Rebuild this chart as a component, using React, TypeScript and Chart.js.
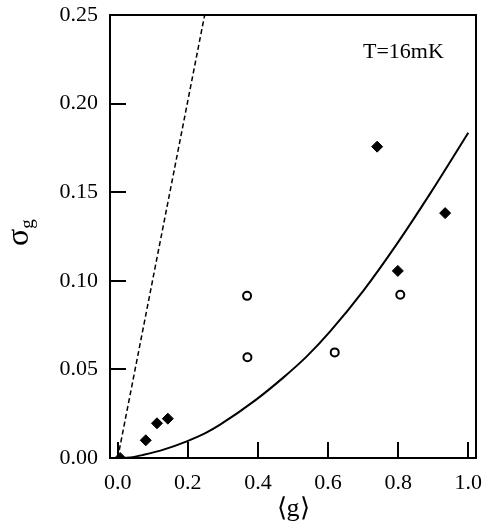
import React, { useEffect, useRef } from "react";
import { Chart, registerables } from "chart.js";

Chart.register(...registerables);

// Filled symbols (solid diamonds)
const filledX = [0.007, 0.080, 0.112, 0.143, 0.740, 0.799, 0.934];
const filledY = [0.000, 0.010, 0.0196, 0.0222, 0.1757, 0.1056, 0.1382];

// Open circles
const openX = [0.369, 0.370, 0.619, 0.806];
const openY = [0.0915, 0.0569, 0.0596, 0.0921];

// Solid theory curve
const curveX = [0.0, 0.036, 0.074, 0.135, 0.197, 0.25, 0.292, 0.392, 0.473, 0.540, 0.606, 0.701, 0.797, 0.892, 1.0];
const curveY = [0.0, 0.0003, 0.0018, 0.0050, 0.0094, 0.0140, 0.0188, 0.0325, 0.0455, 0.0575, 0.0715, 0.0945, 0.121, 0.1495, 0.1836];

// Dashed line
const dashX = [0.0, 0.248];
const dashY = [0.0, 0.25];

// Axes
const xTicks = [0.0, 0.2, 0.4, 0.6, 0.8, 1.0];
const yTicks = [0.0, 0.05, 0.10, 0.15, 0.20, 0.25];
const xMin = -0.022;
const xMax = 1.022;
const yMin = 0;
const yMax = 0.25;

const xTitle = "\u27E8g\u27E9";
const yTitleMain = "\u03C3";
const yTitleSub = "g";
const annotation = "T=16mK";

const SERIF = "'Liberation Serif', 'Times New Roman', serif";

const zip = (xs: number[], ys: number[]) => xs.map((x, i) => ({ x, y: ys[i] }));

const framePlugin = {
  id: "frame",
  beforeDatasetsDraw(chart: any) {
    const { ctx, chartArea } = chart;
    const xs = chart.scales.x;
    const ys = chart.scales.y;
    ctx.save();
    ctx.strokeStyle = "#000";
    ctx.lineWidth = 2;
    ctx.strokeRect(chartArea.left, chartArea.top, chartArea.right - chartArea.left, chartArea.bottom - chartArea.top);
    ctx.beginPath();
    xTicks.forEach((v) => {
      const px = Math.round(xs.getPixelForValue(v));
      ctx.moveTo(px, chartArea.bottom);
      ctx.lineTo(px, chartArea.bottom - 16);
    });
    yTicks.forEach((v) => {
      const py = Math.round(ys.getPixelForValue(v));
      ctx.moveTo(chartArea.left, py);
      ctx.lineTo(chartArea.left + 16, py);
    });
    ctx.stroke();
    ctx.restore();
  },
  afterDraw(chart: any) {
    const { ctx, chartArea } = chart;
    ctx.save();
    ctx.fillStyle = "#000";
    // annotation
    ctx.font = `22px ${SERIF}`;
    ctx.textBaseline = "alphabetic";
    ctx.textAlign = "left";
    ctx.fillText(annotation, 363, 58);
    // y title with subscript
    const cy = (chartArea.top + chartArea.bottom) / 2 - 4;
    ctx.translate(28, cy);
    ctx.rotate(-Math.PI / 2);
    ctx.font = `32px ${SERIF}`;
    const w1 = ctx.measureText(yTitleMain).width;
    ctx.font = `19px ${SERIF}`;
    const w2 = ctx.measureText(yTitleSub).width;
    const start = -(w1 + w2) / 2;
    ctx.font = `32px ${SERIF}`;
    ctx.fillText(yTitleMain, start, 0);
    ctx.font = `19px ${SERIF}`;
    ctx.fillText(yTitleSub, start + w1, 5);
    ctx.restore();
  },
};

export default function App() {
  const ref = useRef<HTMLCanvasElement | null>(null);

  useEffect(() => {
    if (!ref.current) return;
    const chart = new Chart(ref.current, {
      type: "scatter",
      data: {
        datasets: [
          {
            label: "dashed",
            data: zip(dashX, dashY),
            showLine: true,
            borderColor: "#000",
            borderWidth: 1.5,
            borderDash: [5, 3],
            pointRadius: 0,
          },
          {
            label: "theory",
            data: zip(curveX, curveY),
            showLine: true,
            borderColor: "#000",
            borderWidth: 2,
            cubicInterpolationMode: "monotone",
            pointRadius: 0,
          },
          {
            label: "open",
            data: zip(openX, openY),
            pointStyle: "circle",
            pointRadius: 4,
            borderWidth: 2,
            borderColor: "#000",
            backgroundColor: "#fff",
          },
          {
            label: "filled",
            data: zip(filledX, filledY),
            pointStyle: "rectRot",
            pointRadius: 5.5,
            borderWidth: 1,
            borderColor: "#000",
            backgroundColor: "#000",
          },
        ],
      },
      options: {
        animation: false,
        responsive: true,
        maintainAspectRatio: false,
        layout: { padding: { top: 15, right: 8, left: 0, bottom: 0 } },
        plugins: {
          legend: { display: false },
          tooltip: { enabled: false },
        },
        scales: {
          x: {
            type: "linear",
            min: xMin,
            max: xMax,
            grid: { display: false, drawTicks: false },
            border: { display: false },
            afterBuildTicks: (s: any) => {
              s.ticks = xTicks.map((v) => ({ value: v }));
            },
            afterFit: (s: any) => {
              s.height = 67;
              s.paddingLeft = 0;
              s.paddingRight = 0;
            },
            ticks: {
              color: "#000",
              padding: 12,
              maxRotation: 0,
              autoSkip: false,
              font: { family: SERIF, size: 22 },
              callback: (v: any) => Number(v).toFixed(1),
            },
            title: {
              display: true,
              text: xTitle,
              color: "#000",
              font: { family: SERIF, size: 26 },
              padding: { top: 0, bottom: 0 },
            },
          },
          y: {
            type: "linear",
            min: yMin,
            max: yMax,
            grid: { display: false, drawTicks: false },
            border: { display: false },
            afterBuildTicks: (s: any) => {
              s.ticks = yTicks.map((v) => ({ value: v }));
            },
            afterFit: (s: any) => {
              s.width = 110;
              s.paddingTop = 0;
              s.paddingBottom = 0;
            },
            ticks: {
              color: "#000",
              padding: 12,
              autoSkip: false,
              font: { family: SERIF, size: 22 },
              callback: (v: any) => Number(v).toFixed(2),
            },
          },
        },
      },
      plugins: [framePlugin],
    });
    return () => chart.destroy();
  }, []);

  return (
    <div style={{ position: "absolute", left: 0, top: 0, width: 484, height: 525, background: "#fff" }}>
      <canvas ref={ref} />
    </div>
  );
}
